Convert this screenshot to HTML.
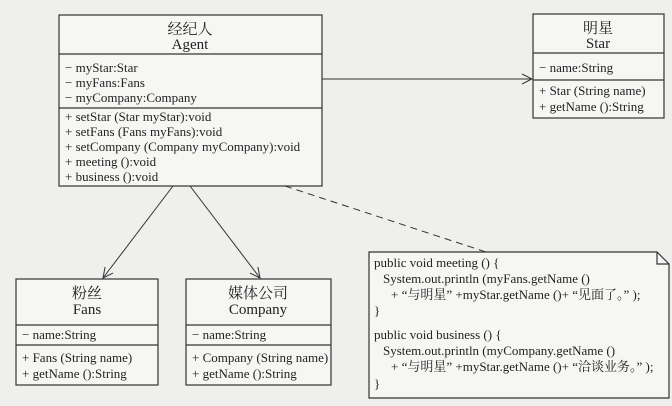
<!DOCTYPE html>
<html><head><meta charset="utf-8"><style>
body{margin:0;background:#efefed;}
svg text{font-family:"Liberation Serif","Noto Serif CJK SC",serif;font-size:13px;fill:#222;}
svg text.h{font-size:15px;}
</style></head><body>
<svg width="672" height="401" viewBox="0 0 672 401" xmlns="http://www.w3.org/2000/svg">
<defs><marker id="a" markerWidth="12" markerHeight="12" refX="11" refY="6" orient="auto" markerUnits="userSpaceOnUse"><path d="M1,1 L11,6 L1,11" fill="none" stroke="#333" stroke-width="1"/></marker></defs>
<g stroke="#333" stroke-width="1.2" fill="#f6f6f4">
<rect x="59" y="15" width="263" height="171"/>
<line x1="59" y1="54" x2="322" y2="54"/><line x1="59" y1="108" x2="322" y2="108"/>
<rect x="533" y="14" width="131" height="104"/>
<line x1="533" y1="53" x2="664" y2="53"/><line x1="533" y1="80" x2="664" y2="80"/>
<rect x="16" y="279" width="142" height="106"/>
<line x1="16" y1="325" x2="158" y2="325"/><line x1="16" y1="345" x2="158" y2="345"/>
<rect x="186" y="279" width="145" height="106"/>
<line x1="186" y1="325" x2="331" y2="325"/><line x1="186" y1="345" x2="331" y2="345"/>
<path d="M369,252 L657,252 L669,264 L669,398 L369,398 Z"/>
<path d="M657,252 L657,264 L669,264" fill="none"/>
</g>
<g stroke="#333" stroke-width="1" fill="none">
<line x1="322" y1="79" x2="532" y2="79" marker-end="url(#a)"/>
<line x1="173" y1="186" x2="103" y2="278" marker-end="url(#a)"/>
<line x1="190" y1="186" x2="260" y2="278" marker-end="url(#a)"/>
<line x1="285" y1="186" x2="486" y2="252" stroke-dasharray="7,5"/>
</g>
<g text-anchor="middle">
<text class="h" x="190" y="34">经纪人</text><text class="h" x="190" y="49">Agent</text>
<text class="h" x="598" y="33">明星</text><text class="h" x="598" y="48">Star</text>
<text class="h" x="87" y="298">粉丝</text><text class="h" x="87" y="314">Fans</text>
<text class="h" x="258" y="298">媒体公司</text><text class="h" x="258" y="314">Company</text>
</g>
<text x="65" y="72">− myStar:Star</text>
<text x="65" y="87">− myFans:Fans</text>
<text x="65" y="102">− myCompany:Company</text>
<text x="65" y="121">+ setStar (Star myStar):void</text>
<text x="65" y="136">+ setFans (Fans myFans):void</text>
<text x="65" y="151">+ setCompany (Company myCompany):void</text>
<text x="65" y="166">+ meeting ():void</text>
<text x="65" y="181">+ business ():void</text>
<text x="539" y="72">− name:String</text>
<text x="539" y="95">+ Star (String name)</text>
<text x="539" y="111">+ getName ():String</text>
<text x="22" y="339">− name:String</text>
<text x="22" y="362">+ Fans (String name)</text>
<text x="22" y="378">+ getName ():String</text>
<text x="192" y="339">− name:String</text>
<text x="192" y="362">+ Company (String name)</text>
<text x="192" y="378">+ getName ():String</text>
<text x="374" y="267">public void meeting () {</text>
<text x="383" y="283">System.out.println (myFans.getName ()</text>
<text x="391" y="299">+ “与明星” +myStar.getName ()+ “见面了。” );</text>
<text x="374" y="315">}</text>
<text x="374" y="339">public void business () {</text>
<text x="383" y="355">System.out.println (myCompany.getName ()</text>
<text x="391" y="371">+ “与明星” +myStar.getName ()+ “洽谈业务。” );</text>
<text x="374" y="388">}</text>
</svg>
</body></html>
